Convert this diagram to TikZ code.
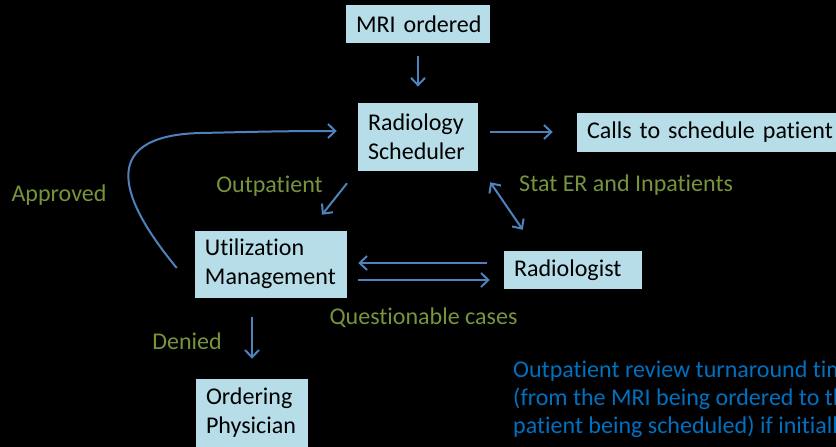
\documentclass[tikz,border=0pt]{standalone}
\usepackage{fontspec}
\setmainfont{Carlito}[Ligatures=NoCommon]
\definecolor{umbox}{RGB}{183,222,232}
\definecolor{umarrow}{RGB}{79,129,189}
\definecolor{umgreen}{RGB}{119,147,60}
\definecolor{umnote}{RGB}{0,112,192}
\usetikzlibrary{arrows.meta,calc}

\begin{document}
\begin{tikzpicture}[x=0.03cm,y=-0.03cm,
  box/.style={fill=umbox, inner xsep=0.3cm, inner ysep=0pt, align=left, text=black, font=\fontsize{20.5}{24.8}\selectfont},
  lbl/.style={text=umgreen, inner sep=0pt, font=\fontsize{20.5}{24.8}\selectfont},
  flow/.style={draw=umarrow, line width=0.06cm, ->, >={Straight Barb[length=0.22cm,width=0.42cm]}}]

  %% Background
  \useasboundingbox (0,0) rectangle (836,447);
  \clip (0,0) rectangle (836,447);
  \fill[black] (0,0) rectangle (836,447);

  %% Boxes
  \node[box, text width=3.72cm, minimum height=1.14cm] (mri) at (418,24) {\mbox{MRI ordered}};
  \node[box, text width=3.0cm, minimum height=2.01cm] (sched) at (418,137) {Radiology\\Scheduler};
  \node[box, text width=7.17cm, minimum height=1.17cm] (calls) at (706.5,132) {\mbox{Calls to schedule patient}};
  \node[box, text width=3.96cm, minimum height=2.01cm] (um) at (271,264) {Utilization\\Management};
  \node[box, text width=3.54cm, minimum height=1.14cm] (rad) at (573,270) {Radiologist};
  \node[box, text width=2.76cm, minimum height=2.04cm] (op) at (252,413) {Ordering\\Physician};

  %% Labels
  \node[lbl] (outp) at (269.5,186) {Outpatient};
  \node[lbl] (appr) at (59,195) {Approved};
  \node[lbl, anchor=west] (stat) at (519,185) {Stat ER and Inpatients};
  \node[lbl] (quest) at (423.5,318) {Questionable cases};
  \node[lbl] (deny) at (187,341) {Denied};

  %% Note
  \node[text=umnote, inner sep=0pt, align=left, anchor=west, font=\fontsize{20.5}{23.9}\selectfont] (note) at (513,399)
    {Outpatient review turnaround time\\(from the MRI being ordered to the\\patient being scheduled) if initially};

  %% Arrows
  \draw[flow, shorten <=0.39cm, shorten >=0.5cm] (mri) -- (sched);
  \draw[flow, shorten <=0.36cm, shorten >=0.72cm] (calls.west -| sched.east) -- (calls.west);
  \draw[flow] ($(sched.south)+(-71,12.5)$) -- ($(um.north)+(51,-15.5)$);
  \draw[flow, <->] ($(sched.south east)+(12,11.5)$) -- ($(rad.north west)+(19,-21)$);
  \draw[flow, shorten <=0.51cm, shorten >=0.33cm] ($(um.east -| rad.west)+(0,-1)$) -- ($(um.east)+(0,-1)$);
  \draw[flow] ($(um.east)+(11,16)$) -- ($(um.east -| rad.west)+(-14,16)$);
  \draw[flow, shorten <=0.57cm, shorten >=0.6cm] (um.south -| op.north) -- (op.north);
  \draw[flow] ($(um.west)+(-18,4)$) .. controls +(-52,-63) and +(-108,3) .. (200,133)
    .. controls +(50,-1) and +(-60,0) .. ($(sched.west)+(-21,-6)$);
\end{tikzpicture}
\end{document}
